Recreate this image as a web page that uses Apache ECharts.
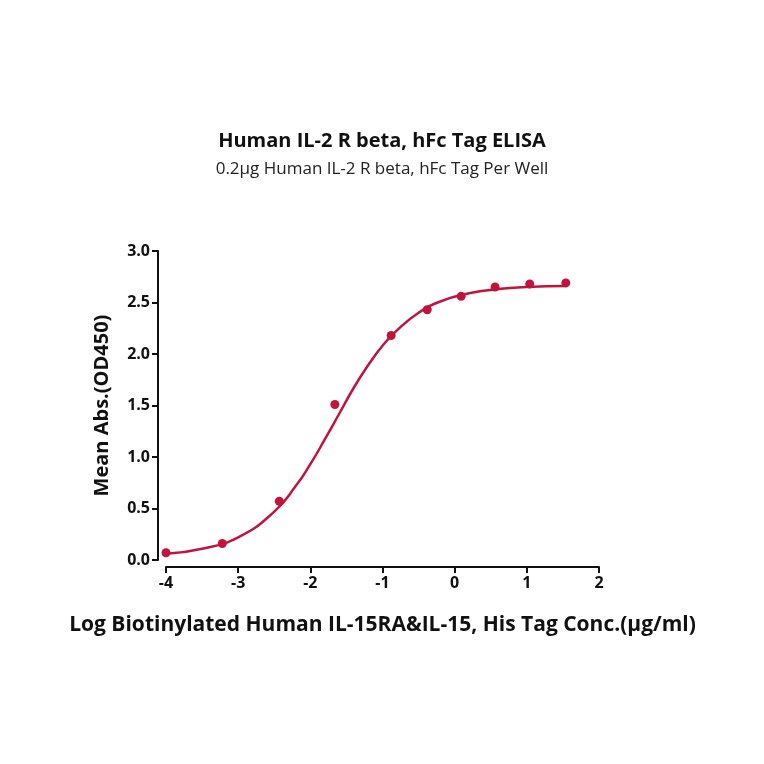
<!DOCTYPE html><html><head><meta charset="utf-8"><script src="https://cdn.jsdelivr.net/npm/echarts@6/dist/echarts.min.js"></script></head><body style="margin:0"><div id="c" style="width:764px;height:764px"></div><script>
const logConc=[-4,-3.22,-2.43,-1.66,-0.88,-0.38,0.09,0.56,1.04,1.54];
const meanAbs=[0.07,0.16,0.57,1.51,2.18,2.43,2.56,2.65,2.68,2.69];
const fitX=[-4,-3.5,-3,-2.5,-2.2,-2,-1.8,-1.6,-1.4,-1.2,-1,-0.8,-0.5,-0.2,0.2,0.6,1,1.54];
const fitY=[0.06,0.11,0.22,0.47,0.72,0.93,1.17,1.42,1.67,1.89,2.08,2.23,2.4,2.51,2.59,2.63,2.65,2.66];
const col='#c0143c';
echarts.init(document.getElementById('c')).setOption({
title:{text:'Human IL-2 R beta, hFc Tag ELISA',subtext:'0.2μg Human IL-2 R beta, hFc Tag Per Well',left:'center',top:126,itemGap:10,
textStyle:{fontFamily:'Open Sans',fontWeight:'bold',fontSize:20,color:'#111'},subtextStyle:{fontFamily:'Open Sans',fontSize:17,color:'#222'}},
grid:{left:166,right:165,top:251,bottom:204},
xAxis:{type:'value',min:-4,max:2,interval:1,offset:7,name:'Log Biotinylated Human IL-15RA&IL-15, His Tag Conc.(μg/ml)',nameLocation:'middle',nameGap:48,
nameTextStyle:{fontFamily:'Open Sans',fontWeight:'bold',fontSize:21,color:'#111'},
axisLine:{onZero:false,lineStyle:{color:'#111',width:2}},axisTick:{lineStyle:{width:2},length:6},splitLine:{show:false},
axisLabel:{fontFamily:'Open Sans',fontWeight:'bold',fontSize:16,color:'#111'}},
yAxis:{type:'value',min:0,max:3,interval:0.5,offset:8,name:'Mean Abs.(OD450)',nameLocation:'middle',nameGap:46,
nameTextStyle:{fontFamily:'Open Sans',fontWeight:'bold',fontSize:20,color:'#111'},
axisLine:{show:true,onZero:false,lineStyle:{color:'#111',width:2}},axisTick:{show:true,lineStyle:{width:2},length:6},splitLine:{show:false},
axisLabel:{fontFamily:'Open Sans',fontWeight:'bold',fontSize:16,color:'#111',formatter:v=>v.toFixed(1)}},
series:[{type:'line',data:fitX.map((x,i)=>[x,fitY[i]]),smooth:true,showSymbol:false,lineStyle:{color:col,width:2.5}},
{type:'scatter',data:logConc.map((x,i)=>[x,meanAbs[i]]),symbolSize:9,itemStyle:{color:col,opacity:1}}]
});
</script></body></html>
